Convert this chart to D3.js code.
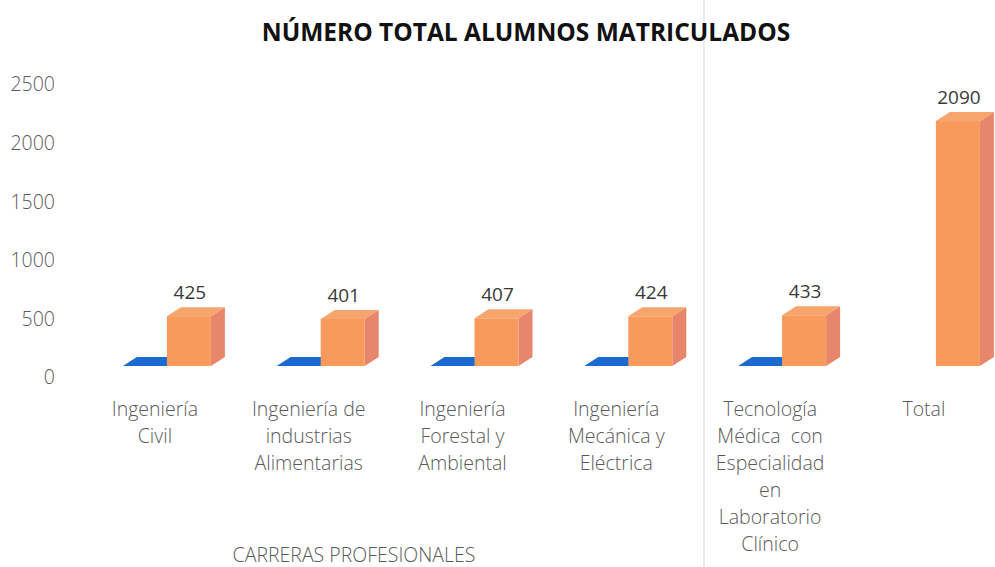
<!DOCTYPE html>
<html>
<head>
<meta charset="utf-8">
<script src="https://cdn.jsdelivr.net/npm/d3@7"></script>
<style>
  body { margin: 0; background: #fff; }
  text { font-family: "Open Sans", sans-serif; }
</style>
</head>
<body>
<svg id="drawing_region"></svg>
<script>
// data
const categories = [
    ["Ingeniería", "Civil"],
    ["Ingeniería de", "industrias", "Alimentarias"],
    ["Ingeniería", "Forestal y", "Ambiental"],
    ["Ingeniería", "Mecánica y", "Eléctrica"],
    ["Tecnología", "Médica  con", "Especialidad", "en", "Laboratorio", "Clínico"],
    ["Total"]
];
const blueValues = [0, 0, 0, 0, 0, null];
const orangeValues = [425, 401, 407, 424, 433, 2090];
const yTicks = [0, 500, 1000, 1500, 2000, 2500];

const width = 995, height = 567;
const barW = 44, dx = 14, dy = 9;
const labelSize = 19.5;

const svg = d3.select('#drawing_region')
    .attr('width', width)
    .attr('height', height);

// faint scan fold line
svg.append('line')
    .attr('x1', 704).attr('x2', 704)
    .attr('y1', 0).attr('y2', height)
    .attr('stroke', '#e6e6e6')
    .attr('stroke-width', 1.5);

const keys = categories.map((c, i) => i);

const xscale = d3.scaleBand()
    .domain(keys)
    .range([90, 90 + 6 * 153.8]);

const yscale = d3.scaleLinear()
    .domain([0, 2500])
    .range([366, 73]);

const cx = i => xscale(i) + xscale.bandwidth() / 2;

// y axis
const yaxis = d3.axisLeft(yscale)
    .tickValues(yTicks)
    .tickFormat(d3.format('d'))
    .tickSize(0)
    .tickPadding(0);

const yaxis_group = svg.append('g')
    .attr('transform', 'translate(55, 11)')
    .call(yaxis);
yaxis_group.select('.domain').remove();
yaxis_group.selectAll('text')
    .attr('font-family', '"Open Sans", sans-serif')
    .attr('font-size', labelSize)
    .attr('font-weight', 300)
    .attr('fill', '#5a5a5a')
    .attr('dy', '0.35em');

const y0 = yscale(0);

// blue (flat) bars
const blue = svg.append('g');
blueValues.forEach((v, i) => {
    if (v === null) return;
    const c = cx(i), yt = yscale(v);
    if (v > 0) {
        blue.append('rect')
            .attr('x', c - barW).attr('y', yt)
            .attr('width', barW).attr('height', y0 - yt)
            .attr('fill', '#1f6fd2');
    }
    blue.append('polygon')
        .attr('points', [[c - barW, yt], [c - barW + dx, yt - dy], [c + dx, yt - dy], [c, yt]].join(' '))
        .attr('fill', '#1a6ad0');
});

// orange bars
const orange = svg.append('g');
orangeValues.forEach((v, i) => {
    const c = cx(i), yt = yscale(v);
    orange.append('polygon')
        .attr('points', [[c + barW, yt], [c + barW + dx, yt - dy], [c + barW + dx, y0 - dy], [c + barW, y0]].join(' '))
        .attr('fill', '#e8866b');
    orange.append('polygon')
        .attr('points', [[c, yt], [c + dx, yt - dy], [c + barW + dx, yt - dy], [c + barW, yt]].join(' '))
        .attr('fill', '#f6a56c');
    orange.append('rect')
        .attr('x', c).attr('y', yt)
        .attr('width', barW).attr('height', y0 - yt)
        .attr('fill', '#f79a5c');
    orange.append('text')
        .attr('x', c + barW / 2 + 1)
        .attr('y', yt - dy - 8)
        .attr('text-anchor', 'middle')
        .attr('font-size', 19)
        .attr('fill', '#3a3a3a')
        .text(v);
});

// category labels
const catg = svg.append('g');
categories.forEach((lines, i) => {
    const t = catg.append('text')
        .attr('x', cx(i) - 12)
        .attr('y', 416)
        .attr('text-anchor', 'middle')
        .attr('font-size', labelSize)
        .attr('font-weight', 300)
        .attr('fill', '#5a5a5a');
    lines.forEach((l, j) => {
        t.append('tspan')
            .attr('x', cx(i) - 12)
            .attr('dy', j === 0 ? 0 : 27)
            .attr('xml:space', 'preserve')
            .text(l);
    });
});

// titles
svg.append('text')
    .attr('x', 526)
    .attr('y', 41)
    .attr('text-anchor', 'middle')
    .attr('font-size', 24.5)
    .attr('font-weight', 'bold')
    .attr('fill', '#111')
    .text('NÚMERO TOTAL ALUMNOS MATRICULADOS');

svg.append('text')
    .attr('x', 354)
    .attr('y', 562)
    .attr('text-anchor', 'middle')
    .attr('font-size', 19.5)
    .attr('font-weight', 300)
    .attr('fill', '#5a5a5a')
    .text('CARRERAS PROFESIONALES');
</script>
</body>
</html>
